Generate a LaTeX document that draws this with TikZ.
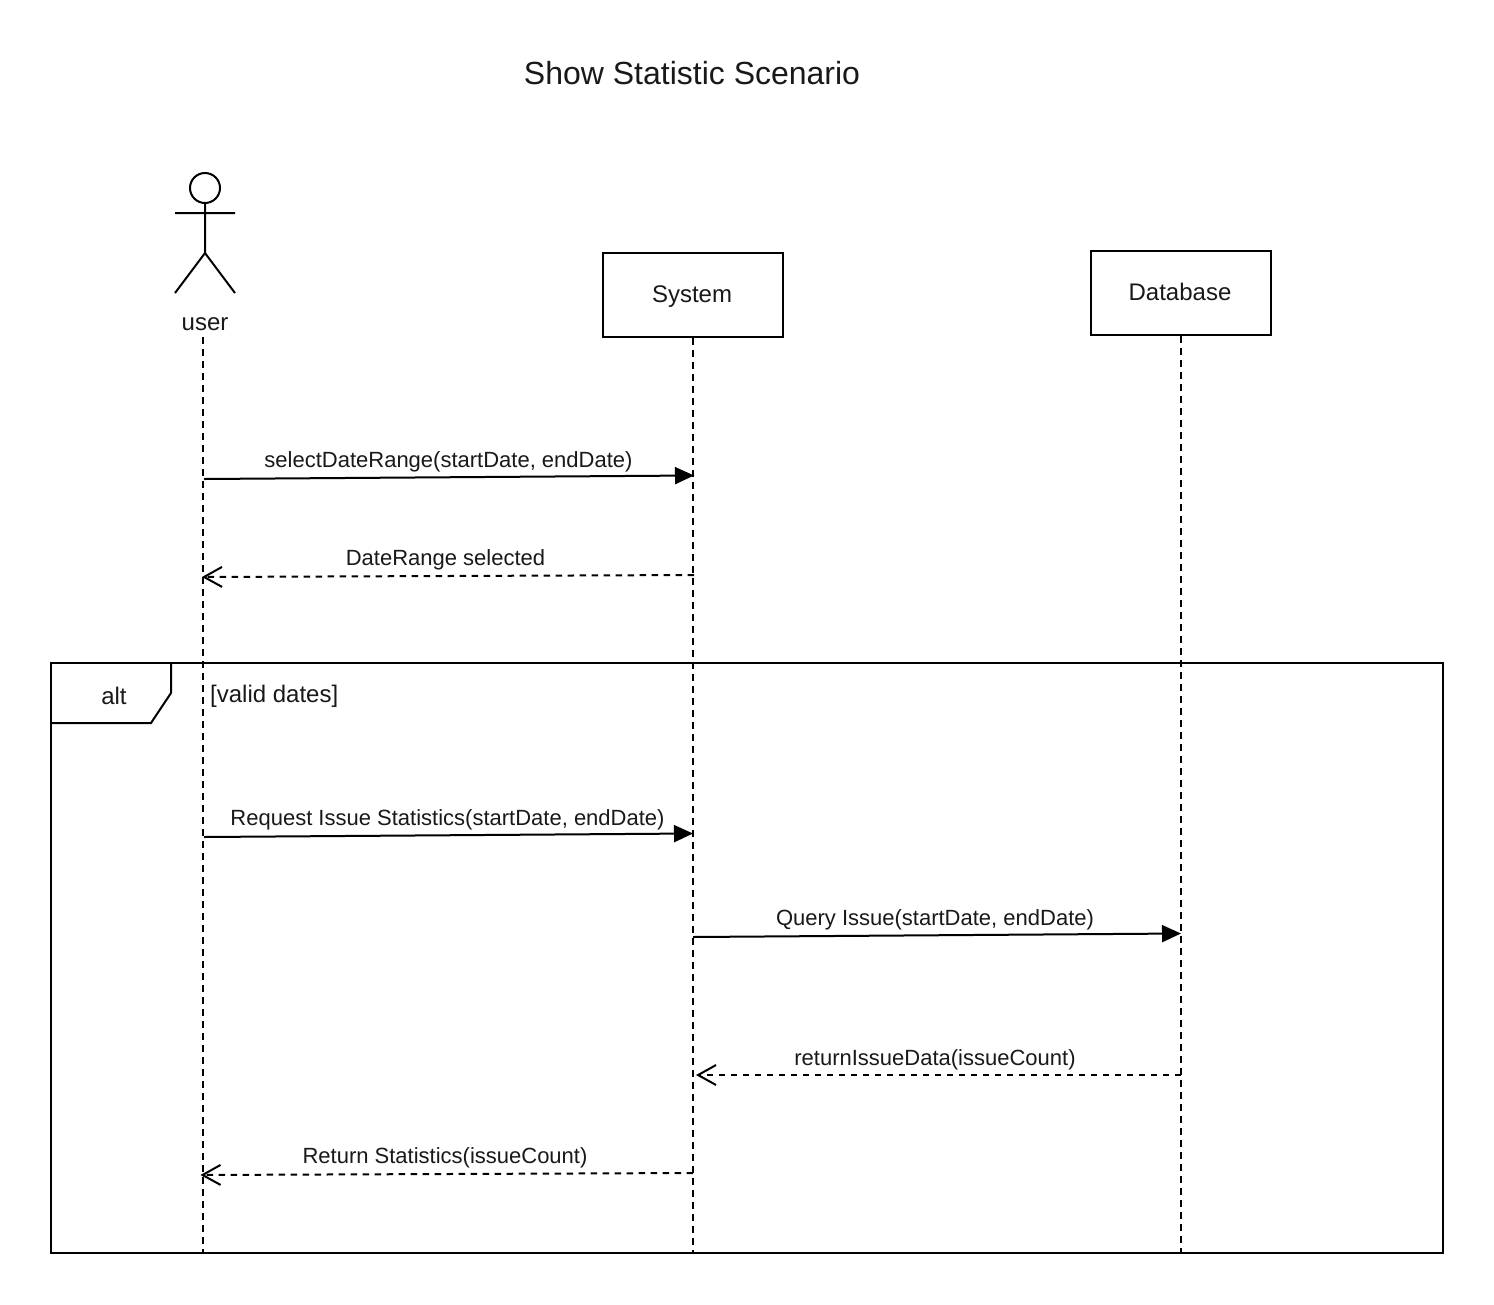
\documentclass[tikz,border=0pt]{standalone}
\usepackage{fontspec}
\setmainfont{Liberation Sans}
\usetikzlibrary{arrows.meta}
\tikzset{
 box/.style={draw=black,line width=2pt,fill=white,minimum width=180pt,minimum height=84pt,inner sep=0pt},
 life/.style={line width=2pt,dash pattern=on 6.5pt off 5.5pt},
 lbl/.style={font=\fontsize{22}{26}\selectfont,inner sep=0pt,anchor=base,text=black!90},
 big/.style={lbl,font=\fontsize{24}{28}\selectfont},
 syncm/.style={line width=2pt,-{Triangle[length=19pt,width=17pt]}},
 ret/.style={line width=2pt,dash pattern=on 6.5pt off 5.5pt,-{Straight Barb[length=18pt,width=20pt,line width=2pt]}},
 outl/.style={draw=black,line width=2pt}
}
\begin{document}
\begin{tikzpicture}[x=1pt,y=-1pt]
\useasboundingbox (0,0) rectangle (1494,1304);
\fill[white] (0,0) rectangle (1494,1304);
\node[lbl,font=\fontsize{32}{36}\selectfont] (title) at (692,84) {Show Statistic Scenario};
% actor
\node[circle,outl,minimum size=30pt,inner sep=0pt] (head) at (205,188) {};
\coordinate (hip) at (205,253);
\coordinate (armL) at (175,213);
\coordinate (armR) at (235,213);
\coordinate (legL) at (175,293);
\coordinate (legR) at (235,293);
\draw[outl] (head.south) -- (hip) (armL) -- (armR) (legL) -- (hip) -- (legR);
\node[big] (user) at (205,330) {user};
\node[box] (system) at (693,295) {};
\node[big] (syslbl) at (692,302) {System};
\node[box] (database) at (1181,293) {};
\node[big] (dbl) at (1180,300) {Database};
\coordinate (uTop) at (203,337);
\coordinate (uBot) at (203,1253);
\coordinate (sBot) at (693,1253);
\coordinate (dBot) at (1181,1253);
% frame
\draw[outl] (51,663) rectangle (1443,1253);
\coordinate (f1) at (51,723);
\coordinate (f2) at (151,723);
\coordinate (f3) at (171,693);
\coordinate (f4) at (171,663);
\draw[outl] (f1) -- (f2) -- (f3) -- (f4);
\node[big] (alt) at (114,704) {alt};
\node[big,anchor=base west] (guard) at (210,702) {[valid dates]};
% lifelines
\draw[life] (uTop) -- (uBot);
\draw[life] (system.south) -- (sBot);
\draw[life] (database.south) -- (dBot);
% messages
\coordinate (m1a) at (204,479); \coordinate (m1b) at (694,475.5);
\draw[syncm] (m1a) -- (m1b);
\node[lbl] (m1) at (448.5,467.5) {selectDateRange(startDate, endDate)};
\coordinate (m2a) at (694,575); \coordinate (m2b) at (202,577);
\draw[ret] (m2a) -- (m2b);
\node[lbl] (m2) at (445.5,565.5) {DateRange selected};
\coordinate (m3a) at (204,837); \coordinate (m3b) at (693,833.5);
\draw[syncm] (m3a) -- (m3b);
\node[lbl] (m3) at (447.5,825.5) {Request Issue Statistics(startDate, endDate)};
\coordinate (m4a) at (693,937); \coordinate (m4b) at (1181,933.5);
\draw[syncm] (m4a) -- (m4b);
\node[lbl] (m4) at (935,925.5) {Query Issue(startDate, endDate)};
\coordinate (m5a) at (1181,1075); \coordinate (m5b) at (696,1075);
\draw[ret] (m5a) -- (m5b);
\node[lbl] (m5) at (935,1065.5) {returnIssueData(issueCount)};
\coordinate (m6a) at (693,1173); \coordinate (m6b) at (200.5,1175);
\draw[ret] (m6a) -- (m6b);
\node[lbl] (m6) at (445,1163.5) {Return Statistics(issueCount)};
\end{tikzpicture}
\end{document}
